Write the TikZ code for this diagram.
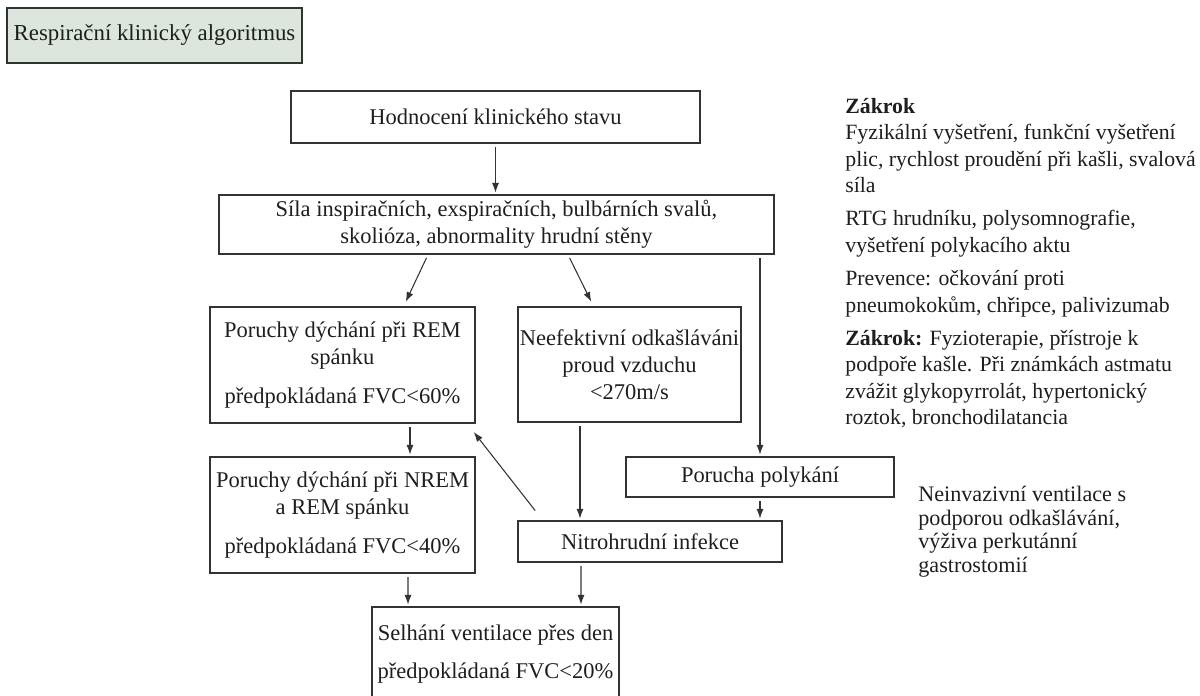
\documentclass[tikz,border=0pt]{standalone}
\usepackage{fontspec}
\setmainfont{Liberation Serif}
\usetikzlibrary{arrows.meta,calc}
\definecolor{titlefill}{HTML}{DDE6DC}
\definecolor{framegray}{HTML}{333333}
\definecolor{inkgray}{HTML}{1E1E1E}

\begin{document}
\begin{tikzpicture}[x=0.02cm,y=-0.02cm,
		box/.style={draw=framegray,line width=0.8pt,inner sep=0pt,align=center,
			font=\fontsize{12.8}{15.5}\selectfont,text=inkgray},
		conn/.style={draw=framegray,line width=0.6pt,-{Latex[length=5.5pt,width=4pt]},
			shorten <=2pt,shorten >=1pt},
		side/.style={anchor=north west,inner sep=0pt,align=left,text=inkgray}]
	\useasboundingbox (0,0) rectangle (1200,696);
	% the title
	\node[box,fill=titlefill,minimum width=5.9cm,minimum height=1.1cm,
		font=\fontsize{13}{15}\selectfont] (title) at (154.5,35.5) {Respirační klinický algoritmus};
	% the boxes of the algorithm
	\node[box,minimum width=8.18cm,minimum height=1.04cm] (hodn) at (495.5,117) {Hodnocení klinického stavu};
	\node[box,minimum width=11.1cm,minimum height=1.18cm] (sila) at (496.5,224.5)
		{Síla inspiračních, exspiračních, bulbárních svalů,\\skolióza, abnormality hrudní stěny};
	\node[box,minimum width=5.3cm,minimum height=2.32cm] (rem) at (342.5,365)
		{Poruchy dýchání při REM\\spánku\\[7pt]předpokládaná FVC<60\%};
	\node[box,minimum width=4.46cm,minimum height=2.3cm] (neef) at (629.5,364.5)
		{Neefektivní odkašláváni\\proud vzduchu\\<270m/s};
	\node[box,minimum width=5.3cm,minimum height=2.32cm] (nrem) at (342.5,515)
		{Poruchy dýchání při NREM\\a REM spánku\\[7pt]předpokládaná FVC<40\%};
	\node[box,minimum width=5.36cm,minimum height=0.8cm] (polykani) at (760,477) {Porucha polykání};
	\node[box,minimum width=5.28cm,minimum height=0.82cm] (infekce) at (650,541.5) {Nitrohrudní infekce};
	\node[box,minimum width=4.94cm,minimum height=1.88cm] (selhani) at (495.5,654)
		{Selhání ventilace přes den\\[6pt]předpokládaná FVC<20\%};
	% the notes on the right
	\node[side,font=\fontsize{12.4}{15}\selectfont] (zakrok) at (845,98)
		{{\bfseries Zákrok}\\
		Fyzikální vyšetření, funkční vyšetření\\
		plic, rychlost proudění při kašli, svalová\\
		síla\\[4pt]
		RTG hrudníku, polysomnografie,\\
		vyšetření polykacího aktu\\[4pt]
		Prevence: očkování proti\\
		pneumokokům, chřipce, palivizumab\\[4pt]
		{\bfseries Zákrok:} Fyzioterapie, přístroje k\\
		podpoře kašle. Při známkách astmatu\\
		zvážit glykopyrrolát, hypertonický\\
		roztok, bronchodilatancia};
	\node[side,font=\fontsize{12.6}{13.4}\selectfont] (niv) at (918,486)
		{Neinvazivní ventilace s\\podporou odkašlávání,\\výživa perkutánní\\gastrostomií};
	% the arrows
	\draw[conn] (hodn.south) -- (hodn.south |- sila.north);
	\draw[conn] ($(sila.south)+(-68.5,0)$) -- ($(rem.north)+(62.5,-3)$);
	\draw[conn] ($(sila.south)+(71.5,0)$) -- ($(neef.north)+(-37.5,-3)$);
	\draw[conn] (polykani.north |- sila.south) -- (polykani.north);
	\draw[conn] ($(rem.south)+(67.5,0)$) -- ($(nrem.north)+(67.5,0)$);
	\draw[conn] ($(neef.south)+(-49.5,0)$) -- ($(infekce.north)+(-70,0)$);
	\draw[conn] (polykani.south) -- (polykani.south |- infekce.north);
	\draw[conn] ($(infekce.north west)+(20,-7)$) -- ($(rem.south east)+(-3,7)$);
	\draw[conn] ($(infekce.south)+(-69,0)$) -- ($(selhani.north)+(85.5,0)$);
	\draw[conn] ($(nrem.south)+(65.5,0)$) -- ($(selhani.north)+(-87.5,0)$);
\end{tikzpicture}
\end{document}
